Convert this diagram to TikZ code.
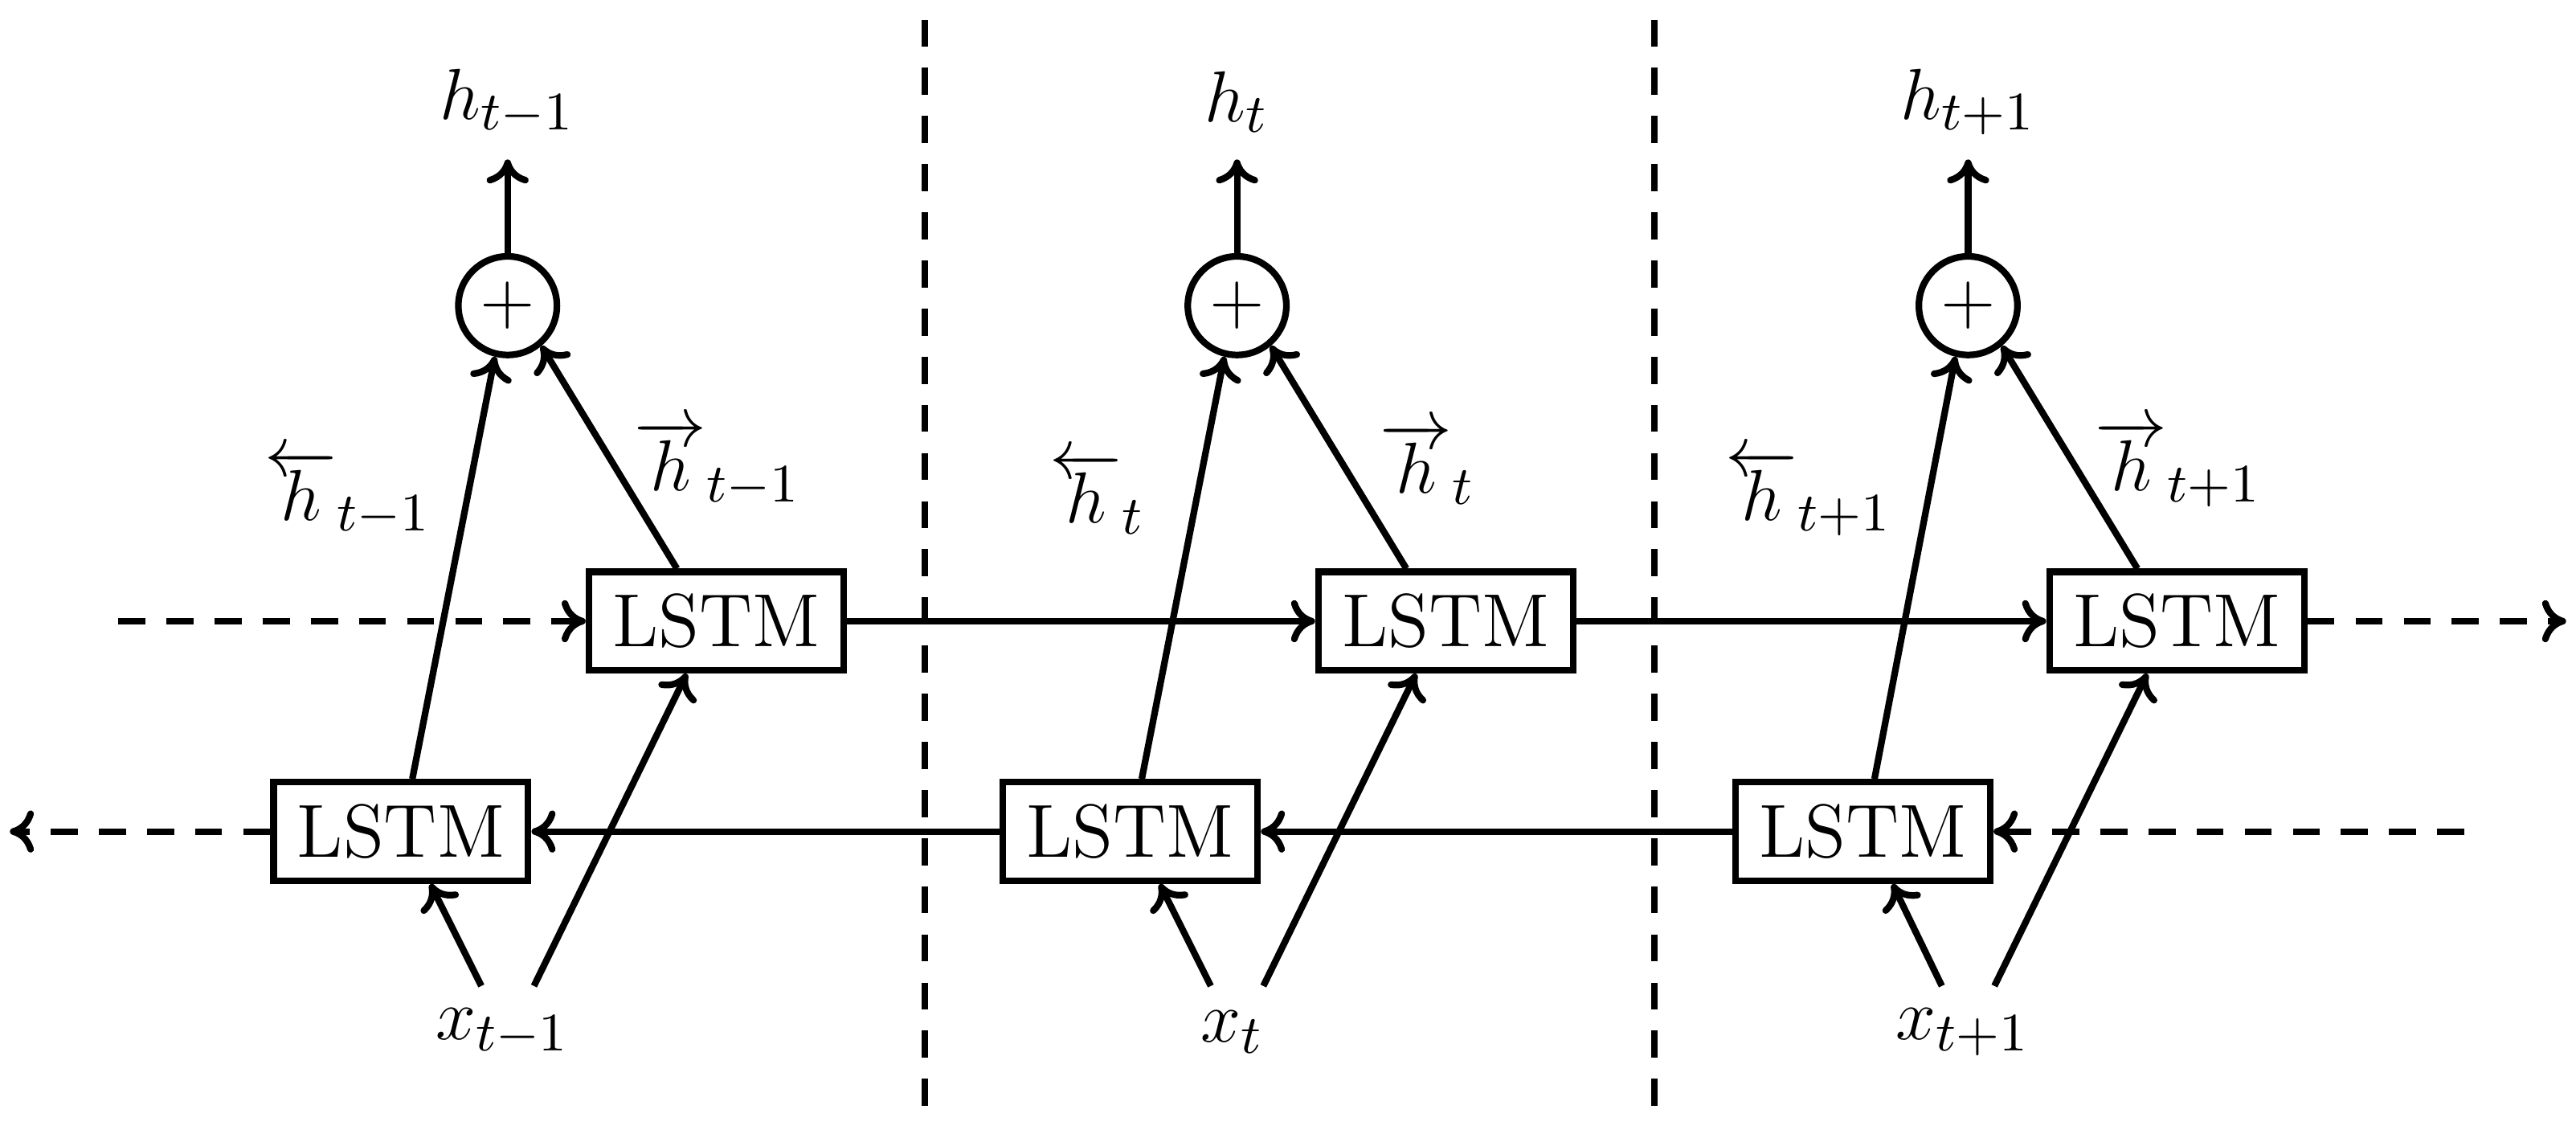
\documentclass[tikz,border=0pt]{standalone}
\usetikzlibrary{arrows.meta}
\begin{document}
\begin{tikzpicture}[x=0.0096cm,y=-0.0096cm,line width=1.1pt,
  every node/.style={font=\fontsize{12.5pt}{15pt}\selectfont},
  box/.style={draw,minimum width=155*0.0096cm,minimum height=60*0.0096cm,inner sep=0pt},
  plus/.style={draw,circle,minimum size=60*0.0096cm,inner sep=0pt},
  arr/.style={-{To[length=4pt,width=7pt]}},
  dsh/.style={dash pattern=on 4.5pt off 3.5pt}]
\useasboundingbox (0,0) rectangle (1568,690);
\draw[dsh] (563,12) -- (563,680);
\draw[dsh] (1007,12) -- (1007,680);
\foreach \i/\tx/\bx/\cx/\s/\dl in {1/436/244/309/{t-1}/0,2/880/688/753/{t}/12,3/1325/1134/1198/{t+1}/0}{
  \node[box] (f\i) at (\tx,378) {LSTM};
  \node[box] (b\i) at (\bx,506) {LSTM};
  \node[plus] (p\i) at (\cx,186) {$+$};
  \node (h\i) at (\cx,62) {$h_{\s}$};
  \node (x\i) at (\cx-3,628) {$x_{\s}$};
  \coordinate (xa\i) at (\cx-16,600);
  \coordinate (xb\i) at (\cx+16,600);
  \draw[arr] (p\i) -- (\cx,97);
  \draw[arr] (xa\i) -- ([xshift=18*0.0096cm]b\i.south);
  \draw[arr] (xb\i) -- ([xshift=-18*0.0096cm]f\i.south);
  \draw[arr] ([xshift=7*0.0096cm]b\i.north) -- (p\i.-104);
  \draw[arr] ([xshift=-24*0.0096cm]f\i.north) -- (p\i.-50);
  \node (lb\i) at (\cx-97+\dl,300) {$\overleftarrow{h}_{\s}$};
  \node (lf\i) at (\cx+128-\dl,282) {$\overrightarrow{h}_{\s}$};
}
\coordinate (fs) at (72,378); \coordinate (fe) at (1562,378);
\coordinate (bs) at (1500,506); \coordinate (be) at (6,506);
\draw[arr,dsh] (fs) -- (f1);
\draw[arr] (f1) -- (f2);
\draw[arr] (f2) -- (f3);
\draw[arr,dsh] (f3) -- (fe);
\draw[arr,dsh] (bs) -- (b3);
\draw[arr] (b3) -- (b2);
\draw[arr] (b2) -- (b1);
\draw[arr,dsh] (b1) -- (be);
\end{tikzpicture}
\end{document}
